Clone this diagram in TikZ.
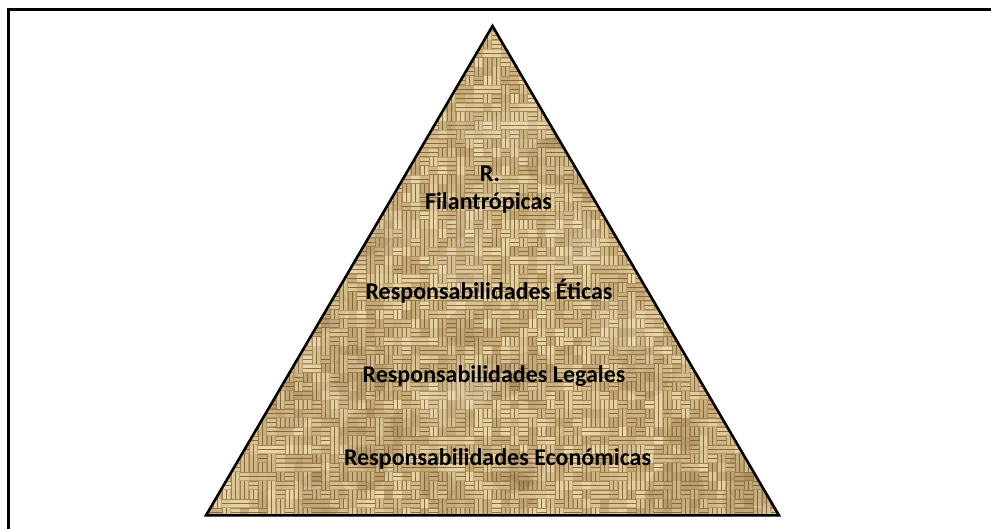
\documentclass[tikz,border=0pt]{standalone}
\usepackage{fontspec}
\setmainfont{Carlito}
\definecolor{burlapdark}{RGB}{122,94,52}
\definecolor{burlapmid}{RGB}{190,160,108}
\definecolor{burlaplight}{RGB}{234,214,166}
\definecolor{burlapstain}{RGB}{110,80,40}
\tikzset{
  frameline/.style={line width=3pt, line cap=butt},
  pyramidedge/.style={draw=black, line width=2.6pt, line join=miter},
  levellabel/.style={anchor=base, inner sep=0pt, text=black,
    font=\bfseries\fontsize{24}{27}\selectfont, align=center},
}
\begin{document}
\begin{tikzpicture}[x=1pt,y=-1pt]
\useasboundingbox (0,0) rectangle (991,529);
% page frame (top and left edges)
\draw[frameline] (8.2,529) -- (8.2,9.5) -- (991,9.5);
% pyramid corners
\coordinate (apex) at (492.5,26);
\coordinate (bl) at (206,515.4);
\coordinate (br) at (779,515.4);
% woven burlap fill
\begin{scope}
  \clip (apex) -- (bl) -- (br) -- cycle;
  \fill[burlapdark] (200,20) rectangle (785,520);
  \pgfmathsetseed{23}
  \foreach \j in {0,...,54} {
    \pgfmathsetmacro\yy{22+9*\j}
    \pgfmathsetmacro\half{(\yy+9-26)/489.4*286.5+9}
    \pgfmathtruncatemacro\is{floor((492.5-\half-204)/9)}
    \pgfmathtruncatemacro\ie{ceil((492.5+\half-204)/9)}
    \foreach \i in {\is,...,\ie} {
      \pgfmathsetmacro\xx{204+9*\i}
      \pgfmathrandominteger{\o}{0}{1}
      \pgfmathrandominteger{\c}{10}{100}
      \ifnum\o=0
        \fill[burlaplight!\c!burlapmid]
          (\xx+0.2,\yy+0.5) rectangle (\xx+8.8,\yy+4.0)
          (\xx+0.2,\yy+5.0) rectangle (\xx+8.8,\yy+8.5);
      \else
        \fill[burlaplight!\c!burlapmid]
          (\xx+0.5,\yy+0.2) rectangle (\xx+4.0,\yy+8.8)
          (\xx+5.0,\yy+0.2) rectangle (\xx+8.5,\yy+8.8);
      \fi
    }
  }
  % soft stains in the cloth
  \foreach \k in {1,...,40} {
    \pgfmathsetmacro\sx{230+rnd*530}
    \pgfmathsetmacro\sy{60+rnd*450}
    \pgfmathsetmacro\sr{10+rnd*22}
    \fill[burlapstain, opacity=0.13] (\sx,\sy) circle[radius=\sr];
  }
  \foreach \k in {1,...,25} {
    \pgfmathsetmacro\sx{230+rnd*530}
    \pgfmathsetmacro\sy{60+rnd*450}
    \pgfmathsetmacro\sr{10+rnd*20}
    \fill[white, opacity=0.08] (\sx,\sy) circle[radius=\sr];
  }
\end{scope}
% pyramid outline
\draw[pyramidedge] (apex) -- (bl) -- (br) -- cycle;
% level labels
\node[levellabel] (r)   at (490,182) {R.};
\node[levellabel] (fil) at (488.5,210) {Filantrópicas};
\node[levellabel] (eti) at (489,300) {Responsabilidades Éticas};
\node[levellabel] (leg) at (494,382) {Responsabilidades Legales};
\node[levellabel] (eco) at (497.5,465) {Responsabilidades Económicas};
\end{tikzpicture}
\end{document}
